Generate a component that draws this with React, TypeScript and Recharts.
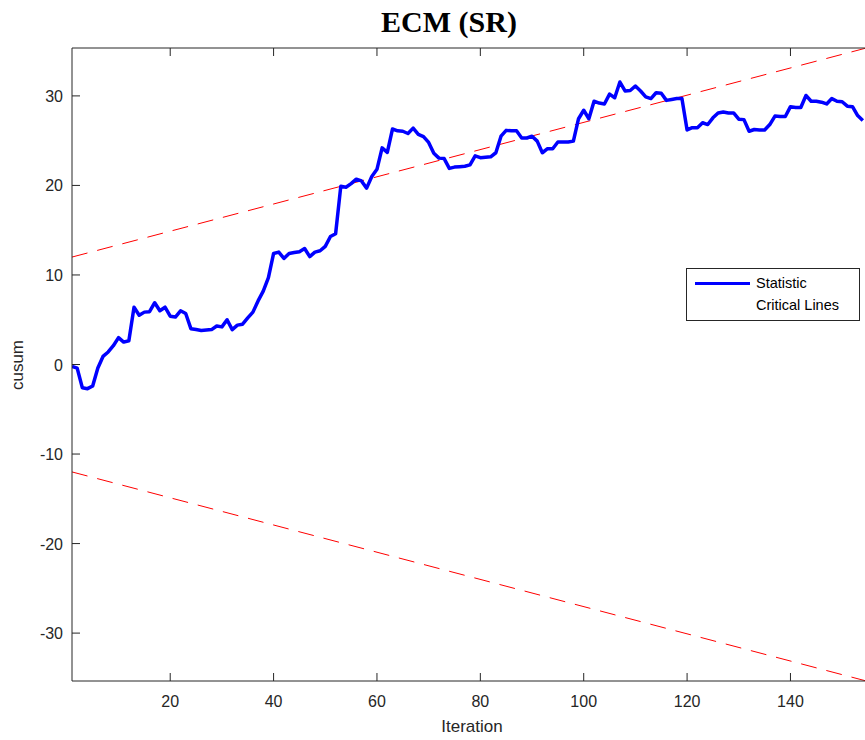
import React from 'react';
import { LineChart, Line, XAxis, YAxis } from 'recharts';

// cusum statistic, one value per iteration (1..154)
const cusum = [
  -0.2, -0.4, -2.6, -2.7, -2.4, -0.4, 0.9, 1.4, 2.1, 3.0,
  2.5, 2.65, 6.4, 5.5, 5.85, 5.9, 6.9, 6.0, 6.4, 5.4,
  5.3, 6.0, 5.7, 4.0, 3.9, 3.8, 3.85, 3.9, 4.3, 4.2,
  5.0, 3.9, 4.4, 4.5, 5.2, 5.85, 7.1, 8.2, 9.7, 12.4,
  12.55, 11.85, 12.4, 12.5, 12.6, 12.95, 12.05, 12.55, 12.7, 13.2,
  14.3, 14.6, 19.9, 19.8, 20.2, 20.7, 20.5, 19.7, 21.0, 21.8,
  24.2, 23.7, 26.3, 26.1, 26.05, 25.8, 26.4, 25.7, 25.45, 24.8,
  23.6, 23.05, 23.0, 21.9, 22.05, 22.1, 22.15, 22.3, 23.3, 23.1,
  23.15, 23.2, 23.65, 25.5, 26.15, 26.1, 26.1, 25.3, 25.3, 25.5,
  24.95, 23.65, 24.1, 24.1, 24.85, 24.85, 24.85, 24.95, 27.45, 28.4,
  27.45, 29.4, 29.2, 29.1, 30.2, 29.8, 31.55, 30.55, 30.6, 31.1,
  30.55, 29.9, 29.7, 30.35, 30.3, 29.5, 29.6, 29.7, 29.7, 26.2,
  26.45, 26.45, 27.0, 26.8, 27.55, 28.1, 28.2, 28.1, 28.1, 27.4,
  27.35, 26.05, 26.25, 26.2, 26.2, 26.8, 27.75, 27.7, 27.7, 28.8,
  28.7, 28.7, 30.05, 29.4, 29.4, 29.3, 29.1, 29.7, 29.4, 29.35,
  28.85, 28.8, 27.8, 27.25,
];
const iterations = cusum.map((_, i) => i + 1);

// critical lines end points
const critX = [1, 155];
const critUpper = [12, 35.4];
const critLower = [-12, -35.4];

const xTicks = [20, 40, 60, 80, 100, 120, 140];
const yTicks = [-30, -20, -10, 0, 10, 20, 30];

const statData = iterations.map((x, i) => ({ x, y: cusum[i] }));
const upperData = critX.map((x, i) => ({ x, y: critUpper[i] }));
const lowerData = critX.map((x, i) => ({ x, y: critLower[i] }));

const axisColor = '#262626';
const font = '"Liberation Sans", Arial, Helvetica, sans-serif';

const BottomTick = (props: any) => {
  const { x, y, payload } = props;
  return (
    <g>
      <line x1={x} x2={x} y1={y} y2={y - 8} stroke={axisColor} />
      <text x={x} y={y + 26} textAnchor="middle" fontSize={16} fill={axisColor} fontFamily={font}>
        {payload.value}
      </text>
    </g>
  );
};

const TopTick = (props: any) => {
  const { x, y } = props;
  return <line x1={x} x2={x} y1={y} y2={y + 8} stroke={axisColor} />;
};

const LeftTick = (props: any) => {
  const { x, y, payload } = props;
  return (
    <g>
      <line x1={x} x2={x + 8} y1={y} y2={y} stroke={axisColor} />
      <text x={x - 9} y={y + 6} textAnchor="end" fontSize={16} fill={axisColor} fontFamily={font}>
        {payload.value}
      </text>
    </g>
  );
};

const LegendBox = () => (
  <div
    style={{
      position: 'absolute', left: 686, top: 268,
      width: 172, height: 51,
      border: '1px solid #262626',
      background: '#fff',
      fontFamily: font,
      fontSize: 14.5,
      color: '#000',
    }}
  >
    <div style={{ position: 'absolute', left: 8, top: 13, width: 55, height: 3, background: '#0000ff' }} />
    <div style={{ position: 'absolute', left: 69, top: 6 }}>Statistic</div>
    <div style={{ position: 'absolute', left: 69, top: 28 }}>Critical Lines</div>
  </div>
);

export default function App() {
  return (
    <div style={{ position: 'absolute', left: 0, top: 0, width: 865, height: 740, overflow: 'hidden', background: '#fff' }}>
      <div
        style={{
          position: 'absolute', left: 0, top: 4, width: 898, textAlign: 'center',
          fontFamily: '"Liberation Serif", "Times New Roman", serif', fontWeight: 'bold', fontSize: 30, lineHeight: '36px',
        }}
      >
        ECM (SR)
      </div>
      <LineChart width={868} height={740} margin={{ top: 47, right: 0, left: 0, bottom: 0 }}>
        <XAxis
          xAxisId="bottom"
          type="number"
          dataKey="x"
          domain={[1, 155]}
          ticks={xTicks}
          allowDataOverflow
          height={59}
          tickSize={0}
          tickMargin={0}
          tick={<BottomTick />}
          axisLine={{ stroke: axisColor }}
          tickLine={false}
        />
        <XAxis
          xAxisId="top"
          orientation="top"
          type="number"
          dataKey="x"
          domain={[1, 155]}
          ticks={xTicks}
          allowDataOverflow
          height={1}
          tickSize={0}
          tickMargin={0}
          tick={<TopTick />}
          axisLine={{ stroke: axisColor }}
          tickLine={false}
        />
        <YAxis
          type="number"
          domain={[-35.35, 35.35]}
          ticks={yTicks}
          allowDataOverflow
          width={72}
          tickSize={0}
          tickMargin={0}
          tick={<LeftTick />}
          axisLine={{ stroke: axisColor }}
          tickLine={false}
        />
        <Line
          xAxisId="bottom"
          data={upperData}
          dataKey="y"
          stroke="#ff0000"
          strokeWidth={1}
          strokeDasharray="16 10"
          dot={false}
          isAnimationActive={false}
        />
        <Line
          xAxisId="bottom"
          data={lowerData}
          dataKey="y"
          stroke="#ff0000"
          strokeWidth={1}
          strokeDasharray="16 10"
          dot={false}
          isAnimationActive={false}
        />
        <Line
          xAxisId="bottom"
          data={statData}
          dataKey="y"
          stroke="#0000ff"
          strokeWidth={3.5}
          strokeLinejoin="round"
          dot={false}
          isAnimationActive={false}
        />
      </LineChart>
      <LegendBox />
      <div style={{ position: 'absolute', left: 0, top: 717, width: 944, textAlign: 'center', fontFamily: font, fontSize: 17, color: axisColor }}>
        Iteration
      </div>
      <div
        style={{
          position: 'absolute', left: 18, top: 365, fontFamily: font, fontSize: 17, color: axisColor,
          transform: 'translate(-50%, -50%) rotate(-90deg)', whiteSpace: 'nowrap',
        }}
      >
        cusum
      </div>
    </div>
  );
}
